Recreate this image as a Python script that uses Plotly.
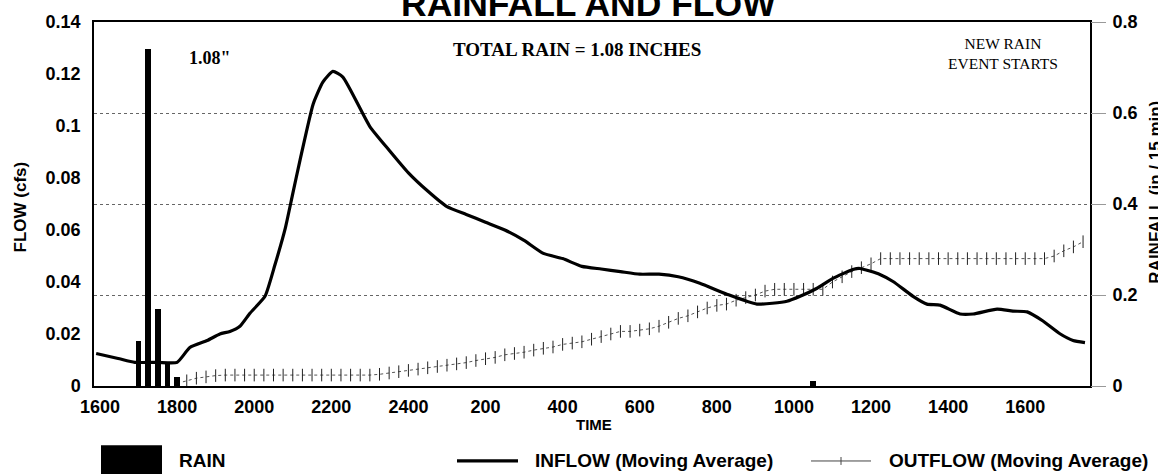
import plotly.graph_objects as go

# ---- data (time in hours from 00:00 of day 1; 24+ = next day) ----
rain_time = [17.0, 17.25, 17.5, 17.75, 18.0, 34.5]
rain_in = [0.10, 0.74, 0.17, 0.05, 0.02, 0.01]

inflow_time = [15.9, 16.47, 16.9, 17.5, 18.0, 18.33, 18.78, 19.11, 19.37, 19.63, 19.89,
               20.28, 20.54, 20.8, 21.0, 21.19, 21.53, 21.78, 22.04, 22.3, 23.0, 23.5,
               24.0, 24.5, 25.0, 25.5, 26.0, 26.5, 27.0, 27.5, 28.0, 28.5, 29.0, 29.5,
               30.0, 30.5, 31.0, 31.56, 32.26, 33.04, 33.82, 34.16, 34.6, 35.01, 35.53,
               35.71, 36.23, 36.57, 37.09, 37.45, 37.79, 38.31, 38.65, 39.27, 39.68,
               40.05, 40.46, 40.9, 41.24, 41.55]
inflow_cfs = [0.0125, 0.0106, 0.0091, 0.0091, 0.0091, 0.0148, 0.0175, 0.0200, 0.0210, 0.0230, 0.0280,
              0.0345, 0.0467, 0.0603, 0.0740, 0.0870, 0.1085, 0.1169, 0.1210, 0.1188, 0.0998, 0.0907,
              0.0820, 0.0750, 0.0690, 0.0660, 0.0630, 0.0600, 0.0560, 0.0510, 0.0490, 0.0460, 0.0450, 0.0440,
              0.0430, 0.0430, 0.0420, 0.0395, 0.0353, 0.0315, 0.0326, 0.0345, 0.0376, 0.0414, 0.0448,
              0.0452, 0.0429, 0.0402, 0.0345, 0.0315, 0.0311, 0.0277, 0.0277, 0.0296, 0.0288,
              0.0285, 0.0250, 0.0201, 0.0175, 0.0167]

# outflow sampled every 15 minutes from 18:00 (day 1) to 17:30 (day 2)
outflow_cfs = [0.0010, 0.0020, 0.0030, 0.0035, 0.0040,
               0.0042, 0.0042, 0.0042, 0.0042, 0.0042, 0.0042, 0.0042, 0.0042,
               0.0042, 0.0042, 0.0042, 0.0042, 0.0042, 0.0042, 0.0042, 0.0042,
               0.0045, 0.0050, 0.0055, 0.0060, 0.0065, 0.0070, 0.0075, 0.0080, 0.0085, 0.0090,
               0.0098, 0.0105, 0.0110, 0.0120, 0.0125, 0.0130, 0.0138, 0.0145, 0.0150, 0.0160,
               0.0165, 0.0170, 0.0180, 0.0190, 0.0200, 0.0210, 0.0210, 0.0215, 0.0220, 0.0230,
               0.0245, 0.0260, 0.0270, 0.0285, 0.0300, 0.0310, 0.0315, 0.0330, 0.0340, 0.0350,
               0.0365,
               0.0372, 0.0372, 0.0372, 0.0372, 0.0372, 0.0372,
               0.0400, 0.0420, 0.0440, 0.0455, 0.0470, 0.0490,
               0.0490, 0.0490, 0.0490, 0.0490, 0.0490, 0.0490, 0.0490, 0.0490, 0.0490,
               0.0490, 0.0490, 0.0490, 0.0490, 0.0490, 0.0490, 0.0490, 0.0490,
               0.0500, 0.0520, 0.0535, 0.0555]
outflow_time = [18.0 + 0.25 * i for i in range(len(outflow_cfs))]

tick_hours = [16, 18, 20, 22, 24, 26, 28, 30, 32, 34, 36, 38, 40]
tick_labels = ['1600', '1800', '2000', '2200', '2400', '200', '400', '600',
               '800', '1000', '1200', '1400', '1600']
flow_ticks = [0, 0.02, 0.04, 0.06, 0.08, 0.1, 0.12, 0.14]
flow_labels = ['0', '0.02', '0.04', '0.06', '0.08', '0.1', '0.12', '0.14']
rain_ticks = [0, 0.2, 0.4, 0.6, 0.8]
rain_labels = ['0', '0.2', '0.4', '0.6', '0.8']

SANS = 'Liberation Sans, Arial, sans-serif'
SERIF = 'Liberation Serif, Times New Roman, serif'

fig = go.Figure()

fig.add_trace(go.Bar(x=rain_time, y=rain_in, width=0.15, yaxis='y2',
                     marker=dict(color='black', line=dict(width=0)),
                     name='RAIN', showlegend=False))

fig.add_trace(go.Scatter(x=outflow_time, y=outflow_cfs, mode='lines+markers',
                         line=dict(color='#555555', width=1, dash='dot'),
                         marker=dict(symbol='line-ns', size=9,
                                     line=dict(color='#222222', width=1)),
                         name='OUTFLOW (Moving Average)', showlegend=False))

fig.add_trace(go.Scatter(x=inflow_time, y=inflow_cfs, mode='lines',
                         line=dict(color='black', width=3.2, shape='spline', smoothing=0.5),
                         name='INFLOW (Moving Average)', showlegend=False))

fig.update_layout(
    width=1158, height=474,
    margin=dict(l=94, r=68, t=17, b=88),
    paper_bgcolor='white', plot_bgcolor='white',
    bargap=0,
    xaxis=dict(range=[15.844, 41.68], tickvals=tick_hours, ticktext=tick_labels,
               showgrid=False, zeroline=False, showline=True, mirror=True,
               linecolor='black', linewidth=1.5, ticks='', ticklabelstandoff=4,
               tickfont=dict(family=SANS, size=18, color='black', weight='bold')),
    yaxis=dict(range=[0, 0.14], tickvals=flow_ticks, ticktext=flow_labels,
               showgrid=False, zeroline=False, showline=True, mirror=True,
               linecolor='black', linewidth=1.5, ticks='', ticklabelstandoff=8,
               tickfont=dict(family=SANS, size=18, color='black', weight='bold')),
    yaxis2=dict(range=[0, 0.8], tickvals=rain_ticks, ticktext=rain_labels,
                overlaying='y', side='right', showgrid=True, gridcolor='#666666',
                griddash='dot', gridwidth=1, zeroline=False, showline=False,
                ticks='outside', ticklen=15, tickcolor='#999999', tickwidth=1,
                ticklabelstandoff=3,
                tickfont=dict(family=SANS, size=18, color='black', weight='bold')),
)

def px_x(px):
    return (px - 94) / 996.0

def px_y(py):
    return (386 - py) / 369.0

def note(text, px, py, size, family=SANS, xanchor='center', yanchor='middle', angle=0):
    return dict(text=text, x=px_x(px), y=px_y(py), xref='paper', yref='paper',
                xanchor=xanchor, yanchor=yanchor, showarrow=False, textangle=angle,
                font=dict(family=family, size=size, color='black'))

annotations = [
    note('<b>RAINFALL AND FLOW</b>', 588, 21, 35.5, yanchor='bottom'),
    note('<b>1.08"</b>', 210, 53, 18, family=SERIF),
    note('<b>TOTAL RAIN = 1.08 INCHES</b>', 577, 45, 19, family=SERIF),
    note('NEW RAIN<br>EVENT STARTS', 1003, 49, 15.5, family=SERIF),
    note('<b>FLOW (cfs)</b>', 20, 205, 17, angle=-90),
    note('<b>RAINFALL (in / 15 min)</b>', 1156, 190, 17, angle=-90),
    note('<b>TIME</b>', 594, 425, 15),
    note('<b>RAIN</b>', 177, 462, 19, xanchor='left'),
    note('<b>INFLOW (Moving Average)</b>', 533, 462, 19, xanchor='left'),
    note('<b>OUTFLOW (Moving Average)</b>', 887, 462, 19, xanchor='left'),
]
fig.update_layout(annotations=annotations)

shapes = [
    dict(type='rect', xref='paper', yref='paper', x0=px_x(101), x1=px_x(162),
         y0=px_y(446), y1=px_y(480), fillcolor='black', line=dict(width=0)),
    dict(type='line', xref='paper', yref='paper', x0=px_x(457), x1=px_x(518),
         y0=px_y(462), y1=px_y(462), line=dict(color='black', width=3.2)),
    dict(type='line', xref='paper', yref='paper', x0=px_x(811), x1=px_x(871),
         y0=px_y(462), y1=px_y(462), line=dict(color='#444444', width=1)),
    dict(type='line', xref='paper', yref='paper', x0=px_x(841), x1=px_x(841),
         y0=px_y(458), y1=px_y(466), line=dict(color='#444444', width=1)),
]
fig.update_layout(shapes=shapes)

# remove the browser's default 8px body margin so the figure sits at the page corner
fig.write_html('out.html', config={'displayModeBar': False},
               post_script="document.body.style.margin='0px';document.body.style.overflow='hidden';")
